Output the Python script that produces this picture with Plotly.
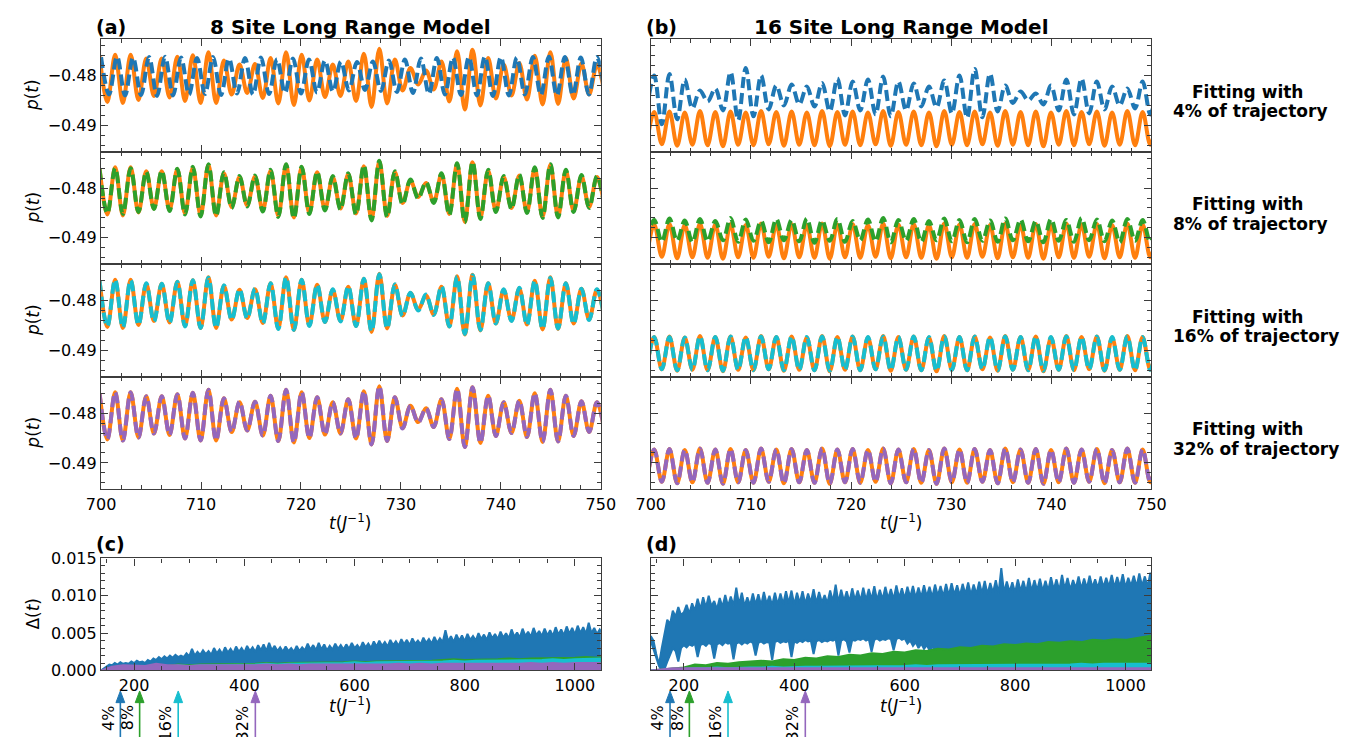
import plotly.graph_objects as go

# ---------------------------------------------------------------- data
# extremum times / values of p(t), 8-site model, window 700..750
T8 = [699.85, 700.63, 701.41, 702.18, 702.96, 703.74, 704.52, 705.29, 706.07, 706.85,
      707.63, 708.40, 709.18, 709.96, 710.74, 711.51, 712.29, 713.07, 713.85, 714.62,
      715.40, 716.18, 716.96, 717.73, 718.51, 719.29, 720.07, 720.84, 721.62, 722.40,
      723.18, 723.95, 724.73, 725.51, 726.29, 727.06, 727.84, 728.62, 729.40, 730.17,
      730.95, 731.73, 732.51, 733.28, 734.06, 734.84, 735.62, 736.39, 737.17, 737.95,
      738.73, 739.50, 740.28, 741.06, 741.84, 742.61, 743.39, 744.17, 744.95, 745.72,
      746.50, 747.28, 748.06, 748.83, 749.61, 750.39]

P8_EXACT = [-0.4760, -0.4853, -0.4758, -0.4855, -0.4758, -0.4849, -0.4766, -0.4841, -0.4766, -0.4844,
            -0.4762, -0.4851, -0.4759, -0.4855, -0.4753, -0.4855, -0.4770, -0.4838, -0.4778, -0.4835,
            -0.4777, -0.4845, -0.4765, -0.4856, -0.4753, -0.4859, -0.4758, -0.4850, -0.4768, -0.4843,
            -0.4778, -0.4841, -0.4772, -0.4851, -0.4756, -0.4863, -0.4746, -0.4856, -0.4768, -0.4830,
            -0.4785, -0.4818, -0.4790, -0.4828, -0.4772, -0.4852, -0.4751, -0.4868, -0.4748, -0.4860,
            -0.4765, -0.4846, -0.4778, -0.4840, -0.4775, -0.4848, -0.4760, -0.4858, -0.4753, -0.4857,
            -0.4765, -0.4846, -0.4776, -0.4838, -0.4778, -0.4840]

T8_FIT4 = [700.0, 700.8, 701.6, 702.4, 703.2, 704.0, 704.8, 705.6, 706.4, 707.2,
           708.0, 708.8, 709.6, 710.4, 711.2, 712.0, 712.8, 713.6, 714.4, 715.2,
           716.0, 716.8, 717.6, 718.4, 719.2, 720.0, 720.8, 721.6, 722.4, 723.2,
           724.0, 724.8, 725.6, 726.4, 727.2, 728.0, 728.8, 729.6, 730.4, 731.2,
           732.0, 732.8, 733.6, 734.4, 735.2, 736.0, 736.8, 737.6, 738.4, 739.2,
           740.0, 740.8, 741.6, 742.4, 743.2, 744.0, 744.8, 745.6, 746.4, 747.2,
           748.0, 748.8, 749.6, 750.4]
P8_FIT4 = [-0.4763, -0.4838, -0.4762, -0.4840, -0.4764, -0.4839, -0.4763, -0.4841, -0.4762, -0.4840,
           -0.4764, -0.4838, -0.4765, -0.4837, -0.4763, -0.4839, -0.4766, -0.4836, -0.4765, -0.4838,
           -0.4764, -0.4837, -0.4767, -0.4835, -0.4766, -0.4836, -0.4768, -0.4834, -0.4770, -0.4832,
           -0.4772, -0.4830, -0.4773, -0.4829, -0.4772, -0.4831, -0.4770, -0.4833, -0.4768, -0.4835,
           -0.4766, -0.4837, -0.4765, -0.4838, -0.4764, -0.4839, -0.4763, -0.4840, -0.4762, -0.4841,
           -0.4763, -0.4840, -0.4764, -0.4838, -0.4763, -0.4839, -0.4762, -0.4840, -0.4763, -0.4839,
           -0.4764, -0.4838, -0.4763, -0.4839]

P8_FIT8 = [-0.4762, -0.4851, -0.4760, -0.4852, -0.4760, -0.4848, -0.4767, -0.4842, -0.4765, -0.4846,
           -0.4761, -0.4853, -0.4757, -0.4857, -0.4752, -0.4856, -0.4768, -0.4840, -0.4776, -0.4837,
           -0.4775, -0.4847, -0.4763, -0.4858, -0.4752, -0.4861, -0.4757, -0.4852, -0.4767, -0.4845,
           -0.4776, -0.4843, -0.4770, -0.4853, -0.4754, -0.4865, -0.4745, -0.4858, -0.4766, -0.4833,
           -0.4783, -0.4821, -0.4788, -0.4830, -0.4770, -0.4854, -0.4750, -0.4869, -0.4747, -0.4862,
           -0.4763, -0.4848, -0.4776, -0.4842, -0.4773, -0.4850, -0.4758, -0.4860, -0.4752, -0.4859,
           -0.4763, -0.4848, -0.4774, -0.4840, -0.4776, -0.4842]

P8_FIT16 = [-0.4760, -0.4852, -0.4758, -0.4854, -0.4759, -0.4849, -0.4765, -0.4842, -0.4766, -0.4845,
            -0.4762, -0.4852, -0.4759, -0.4855, -0.4754, -0.4855, -0.4769, -0.4839, -0.4777, -0.4836,
            -0.4776, -0.4846, -0.4765, -0.4857, -0.4753, -0.4859, -0.4758, -0.4851, -0.4768, -0.4843,
            -0.4777, -0.4842, -0.4771, -0.4851, -0.4756, -0.4862, -0.4747, -0.4856, -0.4767, -0.4831,
            -0.4784, -0.4820, -0.4788, -0.4829, -0.4771, -0.4852, -0.4752, -0.4867, -0.4749, -0.4859,
            -0.4765, -0.4846, -0.4777, -0.4841, -0.4774, -0.4849, -0.4760, -0.4857, -0.4754, -0.4856,
            -0.4765, -0.4847, -0.4776, -0.4839, -0.4777, -0.4841]

P8_FIT32 = [-0.4760, -0.4853, -0.4758, -0.4855, -0.4758, -0.4849, -0.4766, -0.4841, -0.4766, -0.4844,
            -0.4762, -0.4851, -0.4759, -0.4855, -0.4753, -0.4855, -0.4770, -0.4838, -0.4777, -0.4835,
            -0.4777, -0.4845, -0.4765, -0.4856, -0.4753, -0.4859, -0.4758, -0.4850, -0.4768, -0.4843,
            -0.4778, -0.4841, -0.4772, -0.4851, -0.4756, -0.4863, -0.4746, -0.4856, -0.4768, -0.4831,
            -0.4785, -0.4819, -0.4790, -0.4828, -0.4772, -0.4852, -0.4751, -0.4868, -0.4748, -0.4860,
            -0.4765, -0.4846, -0.4778, -0.4840, -0.4775, -0.4848, -0.4760, -0.4858, -0.4753, -0.4857,
            -0.4765, -0.4846, -0.4776, -0.4838, -0.4778, -0.4840]

# extremum times / values of p(t), 16-site model
T16 = [699.59, 700.35, 701.11, 701.87, 702.64, 703.40, 704.16, 704.92, 705.68, 706.45,
       707.21, 707.97, 708.73, 709.49, 710.26, 711.02, 711.78, 712.54, 713.30, 714.07,
       714.83, 715.59, 716.35, 717.11, 717.88, 718.64, 719.40, 720.16, 720.92, 721.69,
       722.45, 723.21, 723.97, 724.73, 725.50, 726.26, 727.02, 727.78, 728.54, 729.31,
       730.07, 730.83, 731.59, 732.35, 733.12, 733.88, 734.64, 735.40, 736.16, 736.93,
       737.69, 738.45, 739.21, 739.97, 740.74, 741.50, 742.26, 743.02, 743.78, 744.55,
       745.31, 746.07, 746.83, 747.59, 748.36, 749.12, 749.88, 750.64]

P16_EXACT = [-0.4940, -0.4873, -0.4938, -0.4872, -0.4941, -0.4874, -0.4939, -0.4871, -0.4940, -0.4873,
             -0.4942, -0.4872, -0.4939, -0.4874, -0.4940, -0.4871, -0.4938, -0.4873, -0.4941, -0.4872,
             -0.4939, -0.4874, -0.4940, -0.4871, -0.4942, -0.4873, -0.4939, -0.4872, -0.4940, -0.4874,
             -0.4938, -0.4871, -0.4941, -0.4873, -0.4939, -0.4872, -0.4940, -0.4874, -0.4942, -0.4871,
             -0.4939, -0.4873, -0.4940, -0.4872, -0.4938, -0.4874, -0.4941, -0.4871, -0.4939, -0.4873,
             -0.4940, -0.4872, -0.4942, -0.4874, -0.4939, -0.4871, -0.4940, -0.4873, -0.4938, -0.4872,
             -0.4941, -0.4874, -0.4939, -0.4871, -0.4940, -0.4873, -0.4939, -0.4872]

P16_FIT4 = [-0.4870, -0.4800, -0.4898, -0.4797, -0.4888, -0.4808, -0.4866, -0.4830, -0.4852, -0.4826,
            -0.4870, -0.4793, -0.4890, -0.4785, -0.4882, -0.4800, -0.4868, -0.4820, -0.4860, -0.4818,
            -0.4858, -0.4822, -0.4862, -0.4815, -0.4872, -0.4806, -0.4880, -0.4812, -0.4870, -0.4808,
            -0.4878, -0.4802, -0.4882, -0.4812, -0.4870, -0.4816, -0.4862, -0.4822, -0.4864, -0.4810,
            -0.4876, -0.4800, -0.4885, -0.4787, -0.4884, -0.4796, -0.4872, -0.4820, -0.4855, -0.4832,
            -0.4850, -0.4836, -0.4858, -0.4820, -0.4870, -0.4808, -0.4878, -0.4806, -0.4876, -0.4812,
            -0.4868, -0.4822, -0.4860, -0.4826, -0.4866, -0.4812, -0.4878, -0.4805]

P16_FIT8 = [-0.4905, -0.4864, -0.4908, -0.4861, -0.4906, -0.4865, -0.4909, -0.4862, -0.4907, -0.4866,
            -0.4905, -0.4860, -0.4908, -0.4863, -0.4906, -0.4866, -0.4909, -0.4862, -0.4905, -0.4864,
            -0.4907, -0.4861, -0.4910, -0.4865, -0.4906, -0.4862, -0.4908, -0.4866, -0.4905, -0.4863,
            -0.4907, -0.4860, -0.4909, -0.4864, -0.4906, -0.4862, -0.4908, -0.4866, -0.4905, -0.4861,
            -0.4907, -0.4864, -0.4909, -0.4862, -0.4906, -0.4865, -0.4908, -0.4861, -0.4905, -0.4863,
            -0.4907, -0.4866, -0.4909, -0.4862, -0.4906, -0.4864, -0.4908, -0.4860, -0.4905, -0.4863,
            -0.4907, -0.4865, -0.4909, -0.4862, -0.4906, -0.4864, -0.4908, -0.4862]

P16_FIT16 = [-0.4939, -0.4873, -0.4938, -0.4873, -0.4940, -0.4874, -0.4939, -0.4872, -0.4940, -0.4873,
             -0.4941, -0.4872, -0.4939, -0.4873, -0.4940, -0.4872, -0.4938, -0.4873, -0.4940, -0.4872,
             -0.4939, -0.4873, -0.4940, -0.4872, -0.4941, -0.4873, -0.4939, -0.4872, -0.4940, -0.4873,
             -0.4938, -0.4872, -0.4940, -0.4873, -0.4939, -0.4872, -0.4940, -0.4873, -0.4941, -0.4872,
             -0.4939, -0.4873, -0.4940, -0.4872, -0.4938, -0.4873, -0.4940, -0.4872, -0.4939, -0.4873,
             -0.4940, -0.4872, -0.4941, -0.4873, -0.4939, -0.4872, -0.4940, -0.4873, -0.4938, -0.4872,
             -0.4940, -0.4873, -0.4939, -0.4872, -0.4940, -0.4873, -0.4939, -0.4872]

P16_FIT32 = [-0.4940, -0.4873, -0.4938, -0.4872, -0.4941, -0.4874, -0.4939, -0.4871, -0.4940, -0.4873,
             -0.4942, -0.4872, -0.4939, -0.4874, -0.4940, -0.4871, -0.4938, -0.4873, -0.4941, -0.4872,
             -0.4939, -0.4874, -0.4940, -0.4871, -0.4942, -0.4873, -0.4939, -0.4872, -0.4940, -0.4874,
             -0.4938, -0.4871, -0.4941, -0.4873, -0.4939, -0.4872, -0.4940, -0.4874, -0.4942, -0.4871,
             -0.4939, -0.4873, -0.4940, -0.4872, -0.4938, -0.4874, -0.4941, -0.4871, -0.4939, -0.4873,
             -0.4940, -0.4872, -0.4942, -0.4874, -0.4939, -0.4871, -0.4940, -0.4873, -0.4938, -0.4872,
             -0.4941, -0.4874, -0.4939, -0.4871, -0.4940, -0.4873, -0.4939, -0.4872]

# deviation Delta(t) over the whole run: fine grid (step 5) and coarse grid (step 20)
T_FINE = list(range(140, 1051, 5))
T_COARSE = list(range(140, 1041, 20)) + [1050]

D8_FIT4_UP = [0.0000, 0.0003, 0.0006, 0.0008, 0.0007, 0.0010, 0.0008, 0.0011, 0.0009, 0.0010,
              0.0009, 0.0012, 0.0010, 0.0013, 0.0011, 0.0012, 0.0010, 0.0014, 0.0012, 0.0016,
              0.0014, 0.0018, 0.0015, 0.0019, 0.0016, 0.0020, 0.0017, 0.0021, 0.0018, 0.0020,
              0.0018, 0.0023, 0.0019, 0.0029, 0.0020, 0.0025, 0.0021, 0.0027, 0.0022, 0.0026,
              0.0021, 0.0030, 0.0023, 0.0028, 0.0022, 0.0031, 0.0024, 0.0029, 0.0023, 0.0032,
              0.0025, 0.0030, 0.0024, 0.0033, 0.0026, 0.0031, 0.0025, 0.0034, 0.0027, 0.0035,
              0.0026, 0.0037, 0.0027, 0.0033, 0.0026, 0.0031, 0.0025, 0.0032, 0.0026, 0.0030,
              0.0025, 0.0033, 0.0026, 0.0031, 0.0027, 0.0036, 0.0028, 0.0034, 0.0027, 0.0037,
              0.0028, 0.0035, 0.0027, 0.0033, 0.0028, 0.0036, 0.0029, 0.0034, 0.0028, 0.0035,
              0.0029, 0.0037, 0.0030, 0.0034, 0.0029, 0.0038, 0.0031, 0.0036, 0.0030, 0.0039,
              0.0032, 0.0040, 0.0033, 0.0038, 0.0032, 0.0041, 0.0034, 0.0039, 0.0033, 0.0042,
              0.0035, 0.0041, 0.0034, 0.0043, 0.0036, 0.0040, 0.0035, 0.0044, 0.0037, 0.0042,
              0.0036, 0.0045, 0.0037, 0.0043, 0.0038, 0.0054, 0.0039, 0.0046, 0.0038, 0.0048,
              0.0040, 0.0047, 0.0039, 0.0049, 0.0041, 0.0046, 0.0040, 0.0050, 0.0042, 0.0048,
              0.0041, 0.0051, 0.0043, 0.0049, 0.0042, 0.0052, 0.0044, 0.0050, 0.0043, 0.0055,
              0.0045, 0.0051, 0.0044, 0.0056, 0.0046, 0.0052, 0.0045, 0.0057, 0.0047, 0.0053,
              0.0046, 0.0056, 0.0047, 0.0054, 0.0046, 0.0058, 0.0048, 0.0055, 0.0047, 0.0059,
              0.0049, 0.0057, 0.0048, 0.0060, 0.0050, 0.0058, 0.0049, 0.0064, 0.0050, 0.0057,
              0.0049, 0.0055, 0.0051]
D8_FIT8 = [0.0000, 0.0003, 0.0005, 0.0006, 0.0005, 0.0007, 0.0006, 0.0008, 0.0007, 0.0008,
           0.0008, 0.0009, 0.0008, 0.0009, 0.0009, 0.0010, 0.0009, 0.0010, 0.0010, 0.0011,
           0.0010, 0.0011, 0.0011, 0.0012, 0.0011, 0.0012, 0.0012, 0.0013, 0.0012, 0.0013,
           0.0013, 0.0014, 0.0015, 0.0014, 0.0014, 0.0015, 0.0015, 0.0016, 0.0015, 0.0016,
           0.0016, 0.0017, 0.0016, 0.0017, 0.0018, 0.0017, 0.0018]
D8_FIT16 = [0.0000, 0.0002, 0.0004, 0.0005, 0.0004, 0.0006, 0.0005, 0.0007, 0.0006, 0.0007,
            0.0007, 0.0008, 0.0007, 0.0008, 0.0008, 0.0009, 0.0008, 0.0009, 0.0009, 0.0010,
            0.0009, 0.0010, 0.0010, 0.0011, 0.0010, 0.0011, 0.0011, 0.0012, 0.0011, 0.0012,
            0.0012, 0.0012, 0.0013, 0.0012, 0.0013, 0.0013, 0.0013, 0.0014, 0.0013, 0.0014,
            0.0014, 0.0015, 0.0014, 0.0015, 0.0015, 0.0015, 0.0016]
D8_FIT32 = [0.0000, 0.0005, 0.0007, 0.0007, 0.0006, 0.0009, 0.0007, 0.0007, 0.0006, 0.0007,
            0.0007, 0.0007, 0.0006, 0.0007, 0.0007, 0.0008, 0.0007, 0.0008, 0.0007, 0.0008,
            0.0008, 0.0008, 0.0007, 0.0008, 0.0008, 0.0008, 0.0008, 0.0009, 0.0008, 0.0009,
            0.0008, 0.0009, 0.0009, 0.0009, 0.0008, 0.0009, 0.0009, 0.0009, 0.0009, 0.0010,
            0.0009, 0.0010, 0.0009, 0.0010, 0.0010, 0.0010, 0.0010]

D16_FIT4_UP = [0.0046, 0.0040, 0.0022, 0.0008, 0.0030, 0.0052, 0.0068, 0.0062, 0.0080, 0.0072,
               0.0085, 0.0074, 0.0078, 0.0088, 0.0076, 0.0090, 0.0080, 0.0096, 0.0082, 0.0098,
               0.0084, 0.0100, 0.0086, 0.0093, 0.0082, 0.0097, 0.0085, 0.0101, 0.0086, 0.0099,
               0.0087, 0.0111, 0.0088, 0.0104, 0.0086, 0.0098, 0.0087, 0.0103, 0.0088, 0.0102,
               0.0087, 0.0105, 0.0089, 0.0100, 0.0087, 0.0104, 0.0088, 0.0103, 0.0089, 0.0106,
               0.0090, 0.0107, 0.0088, 0.0104, 0.0090, 0.0106, 0.0089, 0.0103, 0.0091, 0.0109,
               0.0090, 0.0105, 0.0091, 0.0101, 0.0090, 0.0107, 0.0092, 0.0115, 0.0091, 0.0108,
               0.0093, 0.0106, 0.0092, 0.0110, 0.0094, 0.0107, 0.0093, 0.0111, 0.0094, 0.0109,
               0.0095, 0.0113, 0.0094, 0.0108, 0.0095, 0.0112, 0.0096, 0.0109, 0.0095, 0.0114,
               0.0097, 0.0110, 0.0096, 0.0112, 0.0098, 0.0113, 0.0097, 0.0111, 0.0098, 0.0114,
               0.0099, 0.0112, 0.0098, 0.0115, 0.0100, 0.0113, 0.0099, 0.0116, 0.0100, 0.0117,
               0.0101, 0.0114, 0.0100, 0.0116, 0.0102, 0.0118, 0.0101, 0.0115, 0.0102, 0.0119,
               0.0103, 0.0120, 0.0102, 0.0117, 0.0104, 0.0121, 0.0103, 0.0137, 0.0104, 0.0119,
               0.0105, 0.0118, 0.0104, 0.0122, 0.0106, 0.0120, 0.0105, 0.0124, 0.0106, 0.0121,
               0.0107, 0.0123, 0.0106, 0.0120, 0.0107, 0.0125, 0.0108, 0.0122, 0.0107, 0.0128,
               0.0109, 0.0124, 0.0108, 0.0121, 0.0110, 0.0126, 0.0109, 0.0123, 0.0110, 0.0127,
               0.0111, 0.0122, 0.0110, 0.0126, 0.0111, 0.0124, 0.0112, 0.0128, 0.0111, 0.0125,
               0.0112, 0.0129, 0.0111, 0.0124, 0.0113, 0.0127, 0.0112, 0.0130, 0.0113, 0.0126,
               0.0112, 0.0131, 0.0113]
D16_FIT4_LOW = [0.0040, 0.0030, 0.0018, 0.0006, 0.0000, 0.0002, 0.0012, 0.0022, 0.0030, 0.0026,
                0.0012, 0.0030, 0.0034, 0.0031, 0.0035, 0.0033, 0.0036, 0.0018, 0.0034, 0.0036,
                0.0033, 0.0037, 0.0035, 0.0016, 0.0035, 0.0037, 0.0034, 0.0038, 0.0036, 0.0037,
                0.0015, 0.0036, 0.0038, 0.0035, 0.0038, 0.0036, 0.0039, 0.0037, 0.0020, 0.0037,
                0.0039, 0.0036, 0.0038, 0.0037, 0.0014, 0.0038, 0.0040, 0.0037, 0.0039, 0.0038,
                0.0040, 0.0018, 0.0039, 0.0037, 0.0040, 0.0038, 0.0041, 0.0039, 0.0040, 0.0022,
                0.0039, 0.0041, 0.0038, 0.0040, 0.0039, 0.0041, 0.0040, 0.0042, 0.0020, 0.0040,
                0.0042, 0.0039, 0.0024, 0.0041, 0.0040, 0.0042, 0.0041, 0.0043, 0.0040, 0.0042,
                0.0025, 0.0041, 0.0043, 0.0040, 0.0042, 0.0041, 0.0043, 0.0042, 0.0027, 0.0042,
                0.0044, 0.0041, 0.0043,
                0.0036, 0.0040, 0.0033, 0.0038, 0.0030, 0.0036, 0.0029, 0.0034, 0.0027, 0.0032,
                0.0026, 0.0030, 0.0026, 0.0028, 0.0026, 0.0027, 0.0026, 0.0026, 0.0026, 0.0026,
                0.0030, 0.0030, 0.0030, 0.0030, 0.0030, 0.0030, 0.0030, 0.0030, 0.0030, 0.0030,
                0.0030, 0.0030, 0.0030, 0.0030, 0.0030, 0.0030, 0.0030, 0.0030, 0.0030, 0.0030,
                0.0033, 0.0033, 0.0033, 0.0033, 0.0033, 0.0033, 0.0033, 0.0033, 0.0033, 0.0033,
                0.0033, 0.0033, 0.0033, 0.0033, 0.0033, 0.0033, 0.0033, 0.0033, 0.0033, 0.0033,
                0.0036, 0.0036, 0.0036, 0.0036, 0.0036, 0.0036, 0.0036, 0.0036, 0.0036, 0.0036,
                0.0036, 0.0036, 0.0036, 0.0036, 0.0036, 0.0036, 0.0036, 0.0036, 0.0036, 0.0036,
                0.0038, 0.0038, 0.0038, 0.0038, 0.0038, 0.0038, 0.0038, 0.0038, 0.0038, 0.0038]
D16_FIT8 = [0.0000, 0.0001, 0.0002, 0.0004, 0.0008, 0.0007, 0.0010, 0.0009, 0.0011, 0.0012,
            0.0013, 0.0012, 0.0015, 0.0014, 0.0017, 0.0016, 0.0019, 0.0018, 0.0021, 0.0020,
            0.0023, 0.0022, 0.0025, 0.0024, 0.0027, 0.0026, 0.0029, 0.0028, 0.0031, 0.0030,
            0.0033, 0.0032, 0.0035, 0.0034, 0.0036, 0.0035, 0.0038, 0.0037, 0.0039, 0.0038,
            0.0041, 0.0040, 0.0042, 0.0041, 0.0044, 0.0046, 0.0047]
D16_FIT16 = [0.0000, 0.0001, 0.0002, 0.0002, 0.0003, 0.0003, 0.0004, 0.0003, 0.0004, 0.0004,
             0.0004, 0.0005, 0.0004, 0.0005, 0.0005, 0.0005, 0.0005, 0.0006, 0.0005, 0.0006,
             0.0006, 0.0006, 0.0006, 0.0006, 0.0007, 0.0006, 0.0007, 0.0007, 0.0007, 0.0007,
             0.0007, 0.0008, 0.0007, 0.0008, 0.0008, 0.0008, 0.0008, 0.0008, 0.0008, 0.0009,
             0.0008, 0.0009, 0.0009, 0.0009, 0.0009, 0.0009, 0.0009]
D16_FIT32 = [0.0000, 0.0002, 0.0003, 0.0003, 0.0003, 0.0003, 0.0003, 0.0003, 0.0003, 0.0003,
             0.0003, 0.0003, 0.0003, 0.0003, 0.0003, 0.0003, 0.0003, 0.0003, 0.0003, 0.0003,
             0.0003, 0.0003, 0.0003, 0.0003, 0.0003, 0.0003, 0.0003, 0.0003, 0.0003, 0.0003,
             0.0003, 0.0003, 0.0003, 0.0003, 0.0003, 0.0003, 0.0003, 0.0003, 0.0003, 0.0003,
             0.0003, 0.0003, 0.0003, 0.0003, 0.0003, 0.0003, 0.0003]

# fitting-window end points marked under the Delta panels
FIT_LABELS = ["4%", "8%", "16%", "32%"]
FIT_ENDS = [175, 210, 280, 420]

# ---------------------------------------------------------------- style
W, H = 1365, 737
FONT = "DejaVu Sans"
C_EXACT = "#ff7f0e"
C_FIT = ["#1f77b4", "#2ca02c", "#17becf", "#9467bd"]
FRAME = "#3c3c3c"
DASH = "11px,5px"

LEFT_X = (88, 599)
RIGHT_X = (650, 1162)
ROW_EDGES = [31, 146.5, 262, 377.5, 493]
DELTA_Y = (564, 679)
T_RANGE = [140, 1047]


def xdom(px):
    return [px[0] / W, px[1] / W]


def ydom(top, bottom):
    return [1 - bottom / H, 1 - top / H]


def axis_style(**kw):
    base = dict(showline=True, linecolor=FRAME, linewidth=1.3, mirror="allticks",
                ticks="inside", ticklen=7, tickwidth=1.2, tickcolor=FRAME,
                showgrid=False, zeroline=False,
                tickfont=dict(family=FONT, size=16, color="black"))
    base.update(kw)
    return base


fig = go.Figure()
layout = {}

fit8 = [(T8_FIT4, P8_FIT4), (T8, P8_FIT8), (T8, P8_FIT16), (T8, P8_FIT32)]
fit16 = [(T16, P16_FIT4), (T16, P16_FIT8), (T16, P16_FIT16), (T16, P16_FIT32)]

P_RANGE = [-0.4953, -0.4727]

for col, (xpx, exact_t, exact_p, fits) in enumerate([
        (LEFT_X, T8, P8_EXACT, fit8), (RIGHT_X, T16, P16_EXACT, fit16)]):
    for row in range(4):
        idx = col * 4 + row + 1
        xa = "x" if idx == 1 else f"x{idx}"
        ya = "y" if idx == 1 else f"y{idx}"
        fig.add_trace(go.Scatter(x=exact_t, y=exact_p, xaxis=xa, yaxis=ya, mode="lines",
                                 line=dict(color=C_EXACT, width=4, shape="spline", smoothing=1.0),
                                 hoverinfo="skip"))
        ft, fp = fits[row]
        fig.add_trace(go.Scatter(x=ft, y=fp, xaxis=xa, yaxis=ya, mode="lines",
                                 line=dict(color=C_FIT[row], width=4, dash=DASH,
                                           shape="spline", smoothing=1.0),
                                 hoverinfo="skip"))
        bottom_row = row == 3
        layout["xaxis" if idx == 1 else f"xaxis{idx}"] = axis_style(
            domain=xdom(xpx), anchor=ya, range=[700, 750],
            tickvals=[700, 710, 720, 730, 740, 750],
            ticktext=["700", "710", "720", "730", "740", "750"],
            showticklabels=bottom_row,
            minor=dict(ticks="inside", ticklen=4, tickwidth=1, tickcolor=FRAME,
                       tick0=700, dtick=2, showgrid=False))
        layout["yaxis" if idx == 1 else f"yaxis{idx}"] = axis_style(
            domain=ydom(ROW_EDGES[row], ROW_EDGES[row + 1]), anchor=xa, range=P_RANGE,
            tickvals=[-0.49, -0.48], ticktext=["\u22120.49", "\u22120.48"],
            showticklabels=(col == 0),
            minor=dict(ticks="inside", ticklen=4, tickwidth=1, tickcolor=FRAME,
                       tick0=-0.49, dtick=0.002, showgrid=False))

# Delta panels
for j, (xpx, up4, low4, rest) in enumerate([
        (LEFT_X, D8_FIT4_UP, None, [D8_FIT8, D8_FIT16, D8_FIT32]),
        (RIGHT_X, D16_FIT4_UP, D16_FIT4_LOW, [D16_FIT8, D16_FIT16, D16_FIT32])]):
    idx = 9 + j
    xa, ya = f"x{idx}", f"y{idx}"
    if low4 is None:
        fig.add_trace(go.Scatter(x=T_FINE, y=up4, xaxis=xa, yaxis=ya, mode="lines",
                                 fill="tozeroy", fillcolor=C_FIT[0],
                                 line=dict(color=C_FIT[0], width=2), hoverinfo="skip"))
    else:
        fig.add_trace(go.Scatter(x=T_FINE + T_FINE[::-1], y=up4 + low4[::-1],
                                 xaxis=xa, yaxis=ya, mode="lines", fill="toself",
                                 fillcolor=C_FIT[0], line=dict(color=C_FIT[0], width=2),
                                 hoverinfo="skip"))
    for k, vals in enumerate(rest):
        fig.add_trace(go.Scatter(x=T_COARSE, y=vals, xaxis=xa, yaxis=ya, mode="lines",
                                 fill="tozeroy", fillcolor=C_FIT[k + 1],
                                 line=dict(color=C_FIT[k + 1], width=2), hoverinfo="skip"))
    layout[f"xaxis{idx}"] = axis_style(
        domain=xdom(xpx), anchor=ya, range=T_RANGE,
        tickvals=[200, 400, 600, 800, 1000],
        ticktext=["200", "400", "600", "800", "1000"],
        minor=dict(ticks="inside", ticklen=4, tickwidth=1, tickcolor=FRAME,
                   tick0=0, dtick=50, showgrid=False))
    layout[f"yaxis{idx}"] = axis_style(
        domain=ydom(*DELTA_Y), anchor=xa, range=[0, 0.015],
        tickvals=[0, 0.005, 0.010, 0.015],
        ticktext=["0.000", "0.005", "0.010", "0.015"],
        showticklabels=(j == 0),
        minor=dict(ticks="inside", ticklen=4, tickwidth=1, tickcolor=FRAME,
                   tick0=0, dtick=0.001, showgrid=False))

ann = []


def text_at(x, y, text, size, anchor="center", angle=0, yanchor="middle"):
    ann.append(dict(x=x / W, y=1 - y / H, xref="paper", yref="paper", text=text,
                    showarrow=False, xanchor=anchor, yanchor=yanchor, textangle=angle,
                    font=dict(family=FONT, size=size, color="black")))


# panel titles and letters
text_at(81, 18, "<b>(a)</b>", 19, "left")
text_at(343.5, 18, "<b>8 Site Long Range Model</b>", 20)
text_at(643, 18, "<b>(b)</b>", 19, "left")
text_at(906, 18, "<b>16 Site Long Range Model</b>", 20)
text_at(81, 549, "<b>(c)</b>", 19, "left")
text_at(643, 549, "<b>(d)</b>", 19, "left")

# axis titles
for r in range(4):
    text_at(18, (ROW_EDGES[r] + ROW_EDGES[r + 1]) / 2, "<i>p</i>(<i>t</i>)", 17, angle=-90)
text_at(18, 621, "\u0394(<i>t</i>)", 17, angle=-90)
for cx in (343.5, 906):
    text_at(cx, 527, "<i>t</i>(<i>J</i><sup>\u22121</sup>)", 17)
    text_at(cx, 714, "<i>t</i>(<i>J</i><sup>\u22121</sup>)", 17)

# row captions on the right
for r, pct in enumerate(FIT_LABELS):
    mid = (ROW_EDGES[r] + ROW_EDGES[r + 1]) / 2
    text_at(1201, mid - 4, "<b>Fitting with</b>", 17, "left")
    text_at(1182, mid + 16, f"<b>{pct} of trajectory</b>", 17, "left")

# arrows marking the end of each fitting window (shaft + filled head)
shapes = []
TIP_Y, HEAD_Y, TAIL_Y, HEAD_HALF_PX = 700, 712, 760, 4.5
for j, xpx in enumerate([LEFT_X, RIGHT_X]):
    xa = f"x{9 + j}"
    units_per_px = (T_RANGE[1] - T_RANGE[0]) / (xpx[1] - xpx[0])
    hw = HEAD_HALF_PX * units_per_px
    for k, (lab, te) in enumerate(zip(FIT_LABELS, FIT_ENDS)):
        shapes.append(dict(type="line", xref=xa, yref="paper", x0=te, x1=te,
                           y0=1 - TAIL_Y / H, y1=1 - (HEAD_Y - 1) / H,
                           line=dict(color=C_FIT[k], width=1.6)))
        yb, yt = 1 - HEAD_Y / H, 1 - TIP_Y / H
        shapes.append(dict(type="path", xref=xa, yref="paper",
                           path=f"M {te - hw},{yb} L {te + hw},{yb} L {te},{yt} Z",
                           fillcolor=C_FIT[k], line=dict(color=C_FIT[k], width=1)))
        ann.append(dict(x=te, y=1 - 713 / H, xref=xa, yref="paper", text=lab,
                        showarrow=False, xanchor="right", yanchor="top", textangle=-90,
                        xshift=-1, font=dict(family=FONT, size=16, color="black")))

fig.update_layout(
    width=W, height=H, margin=dict(l=0, r=0, t=0, b=0),
    paper_bgcolor="white", plot_bgcolor="white", showlegend=False,
    annotations=ann, shapes=shapes, **layout)

fig.write_html("out.html")
